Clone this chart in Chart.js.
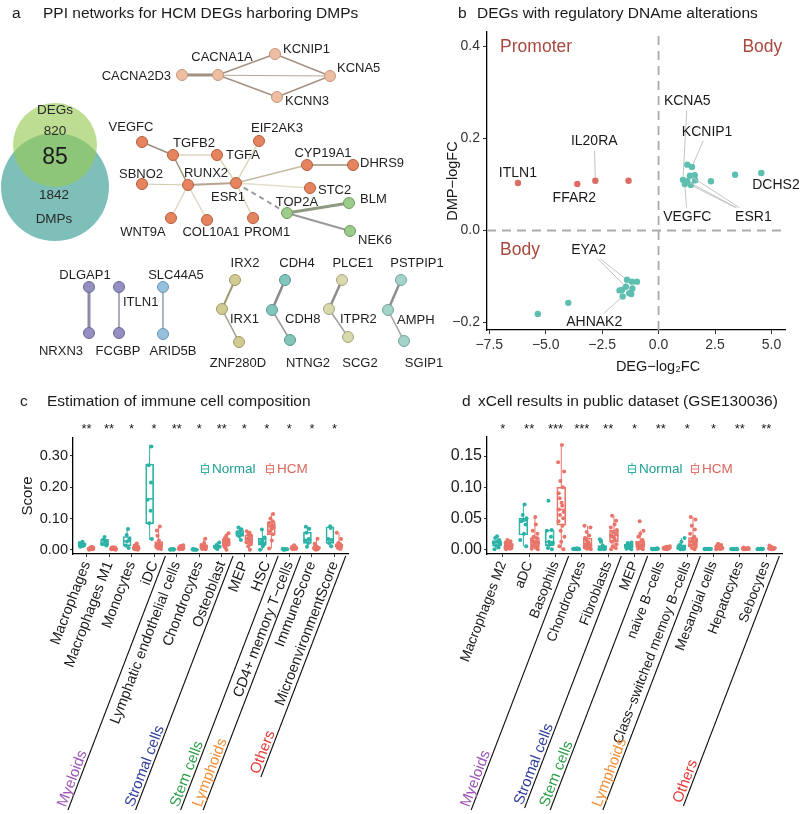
<!DOCTYPE html>
<html>
<head>
<meta charset="utf-8">
<script src="https://cdn.jsdelivr.net/npm/chart.js@4.4.1/dist/chart.umd.min.js"></script>
<style>
body{margin:0;background:#fff}
#wrap{position:relative;width:800px;height:814px;overflow:hidden;background:#fff}
canvas{position:absolute}
</style>
</head>
<body>
<div id="wrap">
<canvas id="ca" width="460" height="380" style="left:0;top:0;width:460px;height:380px"></canvas>
<canvas id="cb" width="400" height="380" style="left:400px;top:0;width:400px;height:380px"></canvas>
<canvas id="cc" width="400" height="434" style="left:0;top:380px;width:400px;height:434px"></canvas>
<canvas id="cd" width="400" height="434" style="left:400px;top:380px;width:400px;height:434px"></canvas>
</div>
<script>
const FONT = '"Liberation Sans", Arial, Helvetica, sans-serif';

// ---- panel a: PPI network + venn ----
const vennNames = ['DEGs', 'DMPs'];
const vennCounts = [820, 1842, 85];
const vennX = [55, 55];
const vennY = [145, 187];
const vennR = [42, 54];

const netNames = ['CACNA2D3','CACNA1A','KCNIP1','KCNA5','KCNN3','VEGFC','TGFB2','TGFA','EIF2AK3','CYP19A1','DHRS9','RUNX2','SBNO2','ESR1','STC2','WNT9A','COL10A1','PROM1','TOP2A','BLM','NEK6','DLGAP1','NRXN3','ITLN1','FCGBP','SLC44A5','ARID5B','IRX2','IRX1','ZNF280D','CDH4','CDH8','NTNG2','PLCE1','ITPR2','SCG2','PSTPIP1','AMPH','SGIP1'];
const netX = [182,218,275,330,277,142,173,217,259,307,353,188,142,236,310,171,207,253,287,349,350,89,89,119,119,163,163,235,222,239,285,272,290,342,329,348,401,388,404];
const netY = [75,75,54,76,97,142,155,155,141,165,165,185,184,183,188,218,220,218,213,203,231,287,333,287,333,287,334,280,309,342,280,310,340,280,309,337,280,310,341];
const netGroup = [0,0,0,0,0,1,1,1,1,1,1,1,1,1,1,1,1,1,2,2,2,3,3,3,3,4,4,5,5,5,6,6,6,7,7,7,8,8,8];
const netEdges = [
  [0,1,'#A39283',3],[0,3,'#B8A89A',1.2],[1,2,'#A39283',1.5],[1,4,'#A39283',1.5],[2,3,'#A39283',1.5],[4,3,'#A39283',1.5],
  [5,6,'#9E8E7E',1.5],[6,7,'#DDD5C4',1.5],[6,11,'#9E9477',1.5],[11,12,'#CFC9A8',1.2],[11,13,'#B9A48F',2],
  [11,15,'#E0D8C5',1.5],[11,16,'#E0D8C5',1.5],[7,13,'#DCD6B8',1.5],[8,13,'#DCD6B8',1.5],[13,9,'#C4BBA0',1.5],
  [9,10,'#B3AD9A',2],[13,14,'#E3DFC8',1.5],[13,17,'#DCD6B8',1.5],
  [13,18,'#9A9A9A',2,1],
  [18,19,'#8C9A80',3],[18,20,'#999999',2],
  [21,22,'#8E8AA6',3],[23,24,'#B0ACBF',2],[25,26,'#A9B9CB',2],[27,28,'#A09A72',2],[28,29,'#9D9A86',1.5],
  [30,31,'#8A8A8A',2.5],[31,32,'#9A9A9A',1.5],[33,34,'#8E8E8E',2.5],[34,35,'#A0A0A0',1.5],[36,37,'#8E8E8E',2.5],[37,38,'#A0A0A0',1.5]
];
// label layout for network nodes
const netLabX = [171,222,283,337,285,131,173,226,277,323,360,206,141,228,318,143,211,267,297,360,358,85,61,123,118,176,173,245,230,238,297,285,308,353,340,360,417,397,424];
const netLabY = [76,57,49,68,101,127,143,155,128,153,163,173,174,197,190,232,232,232,202,199,240,275,351,302,351,275,351,263,319,363,263,319,363,263,319,363,263,320,363];
const netLabAlign = ['right','center','left','left','left','center','left','left','center','center','left','center','center','center','left','center','center','center','center','left','left','center','center','left','center','center','center','center','left','center','center','left','center','center','left','center','center','left','center'];
const groupStyle = [
  ['#EDBFA2','#C9957A'],['#E5845F','#B55E3E'],['#9CCB8A','#6D9A5E'],['#938FC0','#6B6796'],['#95C0DE','#6B94B3'],
  ['#CFCB93','#9D9A66'],['#82C5BA','#5A998E'],['#D9D9AE','#A6A67C'],['#A4D3CA','#72A39A']
];

function tx(ctx, s, x, y, size, color, align, rot, base) {
  ctx.save();
  ctx.font = size + 'px ' + FONT;
  ctx.fillStyle = color || '#1a1a1a';
  ctx.textAlign = align || 'left';
  ctx.textBaseline = base || 'middle';
  if (rot) { ctx.translate(x, y); ctx.rotate(rot); ctx.fillText(s, 0, 0); }
  else ctx.fillText(s, x, y);
  ctx.restore();
}

const netText = {
  id: 'netText',
  afterDatasetsDraw(chart) {
    const {ctx, scales: {x, y}} = chart;
    tx(ctx, 'a', 12, 14, 15.5, '#1a1a1a');
    tx(ctx, 'PPI networks for HCM DEGs harboring DMPs', 43, 14, 15.5, '#1a1a1a');
    netNames.forEach((n, i) => {
      tx(ctx, n, x.getPixelForValue(netLabX[i]), y.getPixelForValue(netLabY[i]), 13, '#1e1e1e', netLabAlign[i]);
    });
    tx(ctx, vennNames[0], 55, 110, 13.5, '#2a2a2a', 'center');
    tx(ctx, String(vennCounts[0]), 55, 131, 13.5, '#2a2a2a', 'center');
    tx(ctx, String(vennCounts[2]), 55, 158, 23, '#1a1a1a', 'center');
    tx(ctx, String(vennCounts[1]), 54, 195, 13.5, '#2a2a2a', 'center');
    tx(ctx, vennNames[1], 54, 219, 13.5, '#2a2a2a', 'center');
  }
};

new Chart(document.getElementById('ca'), {
  type: 'scatter',
  data: {
    datasets: [
      {type: 'bubble', data: [{x: vennX[1], y: vennY[1], r: vennR[1]}], backgroundColor: '#7EC0B9', borderWidth: 0, order: 5},
      {type: 'bubble', data: [{x: vennX[0], y: vennY[0], r: vennR[0]}], backgroundColor: 'rgba(150,202,85,0.64)', borderWidth: 0, order: 4},
      ...netEdges.map(e => ({
        type: 'line',
        data: [{x: netX[e[0]], y: netY[e[0]]}, {x: netX[e[1]], y: netY[e[1]]}],
        borderColor: e[2], borderWidth: e[3], borderDash: e[4] ? [5, 4] : [],
        pointRadius: 0, order: 2
      })),
      ...groupStyle.map((g, gi) => ({
        type: 'scatter',
        data: netNames.map((n, i) => i).filter(i => netGroup[i] === gi).map(i => ({x: netX[i], y: netY[i]})),
        backgroundColor: g[0], borderColor: g[1], borderWidth: 1, pointRadius: 5.5, order: 1
      }))
    ]
  },
  options: {
    responsive: false, animation: false, events: [],
    layout: {padding: 0, autoPadding: false},
    plugins: {legend: {display: false}, tooltip: {enabled: false}},
    scales: {
      x: {type: 'linear', min: 0, max: 460, display: false},
      y: {type: 'linear', min: 0, max: 380, reverse: true, display: false}
    }
  },
  plugins: [netText]
});

// ---- panel b: DEG vs DMP scatter ----
const bXTicks = [-7.5, -5, -2.5, 0, 2.5, 5];
const bYTicks = [-0.2, 0, 0.2, 0.4];
const promoterX = [-6.23, -3.6, -2.8, -1.33];
const promoterY = [0.103, 0.101, 0.108, 0.108];
const bodyX = [1.27,1.48,1.08,1.27,1.39,1.6,1.43,1.16,1.62,2.32,3.39,4.55,-5.35,-4.0,-1.62,-1.45,-1.18,-0.96,-1.4,-1.21,-1.59,-1.73,-1.3,-1.16];
const bodyY = [0.143,0.138,0.110,0.107,0.119,0.120,0.099,0.101,0.109,0.107,0.121,0.125,-0.181,-0.157,-0.129,-0.122,-0.111,-0.111,-0.107,-0.138,-0.143,-0.130,-0.136,-0.126];
const bLabelText = ['ITLN1','IL20RA','FFAR2','KCNA5','KCNIP1','VEGFC','ESR1','DCHS2','EYA2','AHNAK2'];
const bLabelX = [-6.23, -2.85, -3.73, 1.27, 2.15, 1.27, 4.2, 5.2, -3.1, -2.85];
const bLabelY = [0.125, 0.193, 0.071, 0.28, 0.214, 0.03, 0.03, 0.099, -0.042, -0.199];
const bLabelTo = [[], [['p',2]], [], [['b',2]], [['b',1]], [['b',7]], [['b',3],['b',4],['b',6]], [], [['b',18],['b',15]], [['b',20]]];
const NCOL = '#2DB3A6', HCOL = '#E8746A';

const fmtMinus = v => (v < 0 ? '\u2212' : '') + Math.abs(v).toFixed(1);

const bText = {
  id: 'bText',
  afterDatasetsDraw(chart) {
    const {ctx, scales: {x, y}} = chart;
    ctx.save();
    ctx.font = '14px ' + FONT;
    ctx.strokeStyle = '#C4C4C4';
    ctx.lineWidth = 1;
    bLabelText.forEach((t, i) => {
      const cx = x.getPixelForValue(bLabelX[i]), cy = y.getPixelForValue(bLabelY[i]);
      const hw = ctx.measureText(t).width / 2 + 2, hh = 9;
      bLabelTo[i].forEach(([s, k]) => {
        const px = x.getPixelForValue(s === 'p' ? promoterX[k] : bodyX[k]);
        const py = y.getPixelForValue(s === 'p' ? promoterY[k] : bodyY[k]);
        const dx = px - cx, dy = py - cy;
        const t1 = Math.min(dx ? hw / Math.abs(dx) : Infinity, dy ? hh / Math.abs(dy) : Infinity);
        if (t1 >= 1) return;
        const sx = cx + dx * t1, sy = cy + dy * t1;
        const len = Math.hypot(px - sx, py - sy);
        ctx.beginPath();
        ctx.moveTo(sx, sy);
        ctx.lineTo(px - (px - sx) / len * 3, py - (py - sy) / len * 3);
        ctx.stroke();
      });
    });
    ctx.restore();
    bLabelText.forEach((t, i) => {
      tx(ctx, t, x.getPixelForValue(bLabelX[i]), y.getPixelForValue(bLabelY[i]), 14, '#1a1a1a', 'center');
    });
    const qc = '#A8483D';
    tx(ctx, 'Promoter', x.getPixelForValue(-7.02), y.getPixelForValue(0.397), 17.5, qc, 'left');
    tx(ctx, 'Body', x.getPixelForValue(5.48), y.getPixelForValue(0.397), 17.5, qc, 'right');
    tx(ctx, 'Body', x.getPixelForValue(-7.02), y.getPixelForValue(-0.042), 17.5, qc, 'left');
    tx(ctx, 'b', 58, 14, 15.5, '#1a1a1a');
    tx(ctx, 'DEGs with regulatory DNAme alterations', 77, 14, 15.5, '#1a1a1a');
    tx(ctx, 'DMP\u2212logFC', 53, 181, 14.5, '#1a1a1a', 'center', -Math.PI / 2);
    tx(ctx, 'DEG\u2212log\u2082FC', 258, 367, 14.5, '#1a1a1a', 'center');
  }
};

new Chart(document.getElementById('cb'), {
  type: 'scatter',
  data: {
    datasets: [
      {type: 'line', data: [{x: 0, y: -0.216}, {x: 0, y: 0.431}], borderColor: '#ABABAB', borderWidth: 1.8, borderDash: [9, 6], pointRadius: 0, order: 3},
      {type: 'line', data: [{x: -7.6, y: 0}, {x: 5.6, y: 0}], borderColor: '#ABABAB', borderWidth: 1.8, borderDash: [9, 6], pointRadius: 0, order: 3},
      {data: promoterX.map((v, i) => ({x: v, y: promoterY[i]})), backgroundColor: '#DB6D65', borderWidth: 0, pointRadius: 3.2, order: 1},
      {data: bodyX.map((v, i) => ({x: v, y: bodyY[i]})), backgroundColor: '#5EBFB1', borderWidth: 0, pointRadius: 3.2, order: 1}
    ]
  },
  options: {
    responsive: false, animation: false, events: [],
    layout: {padding: {top: 32, right: 15, left: 0, bottom: 0}, autoPadding: false},
    plugins: {legend: {display: false}, tooltip: {enabled: false}},
    scales: {
      x: {
        type: 'linear', min: -7.6, max: 5.6,
        afterBuildTicks: s => { s.ticks = bXTicks.map(v => ({value: v})); },
        afterFit: s => { s.height = 50; s.paddingLeft = 0; s.paddingRight = 0; },
        ticks: {padding: 3, color: '#333', font: {family: FONT, size: 14}, callback: fmtMinus},
        grid: {drawOnChartArea: false, tickLength: 4, color: '#333'},
        border: {color: '#000', width: 1.3}
      },
      y: {
        type: 'linear', min: -0.216, max: 0.431,
        afterBuildTicks: s => { s.ticks = bYTicks.map(v => ({value: v})); },
        afterFit: s => { s.width = 87; s.paddingTop = 0; s.paddingBottom = 0; },
        ticks: {padding: 3, color: '#333', font: {family: FONT, size: 14}, callback: fmtMinus},
        grid: {drawOnChartArea: false, tickLength: 4, color: '#333'},
        border: {color: '#000', width: 1.3}
      }
    }
  },
  plugins: [bText]
});

// ---- panel c: immune cell composition ----
const cCats = ['Macrophages','Macrophages M1','Monocytes','iDC','Lymphatic endothelial cells','Chondrocytes','Osteoblast','MEP','HSC','CD4+ memory T\u2212cells','ImmuneScore','MicroenvironmentScore'];
const cSig = ['**','**','*','*','**','*','**','*','*','*','*','*'];
const cYTicks = [0, 0.1, 0.2, 0.3];
// [lower whisker, q1, median, q3, upper whisker]
const cNormStats = [
  [0.008,0.011,0.017,0.022,0.027],[0.012,0.016,0.022,0.034,0.043],[0.005,0.013,0.028,0.043,0.068],
  [0.032,0.083,0.163,0.274,0.335],[0.0,0.001,0.0015,0.002,0.003],[0.0,0.001,0.001,0.002,0.003],
  [0.003,0.006,0.01,0.016,0.025],[0.032,0.043,0.053,0.062,0.072],[0.0,0.015,0.024,0.037,0.066],
  [0.0,0.001,0.002,0.003,0.004],[0.01,0.021,0.032,0.057,0.075],[0.01,0.021,0.033,0.074,0.077]
];
const cHcmStats = [
  [0.0,0.003,0.004,0.006,0.01],[0.0,0.002,0.004,0.006,0.009],[0.0,0.003,0.005,0.01,0.021],
  [0.002,0.008,0.013,0.027,0.075],[0.001,0.004,0.006,0.009,0.015],[0.001,0.005,0.008,0.014,0.036],
  [0.0,0.014,0.024,0.036,0.053],[0.0,0.022,0.034,0.048,0.06],[0.005,0.048,0.075,0.09,0.117],
  [0.001,0.004,0.006,0.009,0.015],[0.0,0.003,0.006,0.011,0.036],[0.002,0.009,0.012,0.019,0.055]
];
const cNormPts = [
  [0.010,0.013,0.016,0.018,0.022,0.026],[0.014,0.018,0.022,0.027,0.033,0.041],[0.006,0.014,0.027,0.035,0.048,0.067],
  [0.035,0.085,0.125,0.16,0.215,0.27,0.33],[0.0005,0.001,0.0015,0.002,0.002,0.003],[0.0005,0.001,0.001,0.0015,0.002,0.003],
  [0.003,0.006,0.009,0.011,0.016,0.024],[0.032,0.044,0.05,0.054,0.06,0.066,0.072],[0.001,0.012,0.018,0.024,0.03,0.04,0.065],
  [0.0005,0.001,0.002,0.002,0.003,0.004],[0.01,0.022,0.03,0.035,0.055,0.068,0.074],[0.012,0.022,0.032,0.035,0.07,0.076]
];
const cHcmPts = [
  [0.001,0.002,0.003,0.003,0.004,0.004,0.005,0.005,0.006,0.007,0.008,0.010],
  [0.001,0.002,0.002,0.003,0.003,0.004,0.004,0.005,0.006,0.007,0.008,0.009],
  [0.001,0.002,0.003,0.004,0.005,0.005,0.006,0.007,0.009,0.011,0.014,0.021],
  [0.003,0.005,0.007,0.009,0.011,0.012,0.014,0.017,0.021,0.03,0.045,0.062,0.075],
  [0.002,0.003,0.004,0.005,0.005,0.006,0.007,0.008,0.009,0.011,0.013,0.015],
  [0.002,0.003,0.005,0.006,0.007,0.008,0.009,0.011,0.013,0.016,0.022,0.036],
  [0.001,0.008,0.012,0.016,0.02,0.023,0.026,0.03,0.034,0.038,0.045,0.053],
  [0.001,0.012,0.018,0.024,0.028,0.032,0.036,0.04,0.045,0.05,0.055,0.06],
  [0.005,0.03,0.05,0.058,0.066,0.072,0.076,0.08,0.086,0.092,0.1,0.115],
  [0.002,0.003,0.004,0.005,0.006,0.006,0.007,0.008,0.009,0.01,0.012,0.015],
  [0.001,0.002,0.003,0.004,0.005,0.006,0.007,0.009,0.011,0.013,0.02,0.036],
  [0.003,0.006,0.008,0.01,0.011,0.012,0.014,0.016,0.019,0.022,0.035,0.055]
];
const cGroupNames = ['Myeloids','Stromal cells','Stem cells','Lymphoids','Others'];
const cGroupEnds = [3, 6, 8, 9, 11];

// ---- panel d: xCell results ----
const dCats = ['Macrophages M2','aDC','Basophils','Chondrocytes','Fibroblasts','MEP','naive B\u2212cells','Class\u2212switched memoy B\u2212cells','Mesangial cells','Hepatocytes','Sebocytes'];
const dSig = ['*','**','***','***','**','*','**','*','*','**','**'];
const dYTicks = [0, 0.05, 0.1, 0.15];
const dNormStats = [
  [0.0,0.005,0.011,0.014,0.021],[0.005,0.023,0.046,0.05,0.074],[0.0,0.006,0.012,0.031,0.031],
  [0,0,0.0005,0.001,0.0015],[0,0.0005,0.001,0.006,0.016],[0,0.002,0.005,0.008,0.011],
  [0,0,0.0005,0.001,0.0015],[0,0.001,0.002,0.007,0.018],[0,0,0.0005,0.001,0.001],
  [0,0,0.0005,0.0008,0.001],[0,0,0.0005,0.001,0.001]
];
const dHcmStats = [
  [0,0.002,0.005,0.009,0.015],[0,0.003,0.011,0.019,0.052],[0,0.039,0.064,0.1,0.168],
  [0,0.003,0.008,0.018,0.038],[0,0.012,0.022,0.031,0.054],[0,0.003,0.007,0.013,0.03],
  [0,0.001,0.002,0.003,0.005],[0,0.006,0.012,0.019,0.052],[0,0.001,0.002,0.004,0.009],
  [0,0.0005,0.001,0.002,0.003],[0,0.001,0.002,0.0025,0.006]
];
const dNormPts = [
  [0.0,0.003,0.006,0.009,0.011,0.012,0.015,0.018,0.021],
  [0.005,0.015,0.025,0.04,0.045,0.047,0.05,0.055,0.072],
  [0.0,0.002,0.008,0.01,0.012,0.02,0.03,0.031,0.078],
  [0,0,0,0.0005,0.0005,0.001,0.001,0.001,0.0015],
  [0,0,0.0005,0.001,0.001,0.002,0.006,0.012,0.016],
  [0,0.001,0.002,0.004,0.005,0.006,0.008,0.01,0.011],
  [0,0,0,0.0005,0.0005,0.001,0.001,0.001,0.0015],
  [0,0,0.001,0.002,0.002,0.004,0.007,0.012,0.018],
  [0,0,0,0,0.0005,0.0005,0.001,0.001,0.001],
  [0,0,0,0,0.0005,0.0005,0.0005,0.001,0.001],
  [0,0,0,0.0005,0.0005,0.001,0.001,0.001,0.001]
];
const dHcmPts = [
  [0,0.001,0.002,0.002,0.003,0.004,0.004,0.005,0.006,0.007,0.008,0.009,0.011,0.013,0.015],
  [0.0,0.001,0.003,0.005,0.007,0.009,0.01,0.012,0.013,0.015,0.018,0.02,0.025,0.03,0.04,0.052],
  [0.0,0.005,0.012,0.02,0.03,0.038,0.045,0.05,0.055,0.06,0.064,0.07,0.075,0.082,0.09,0.1,0.11,0.125,0.14,0.168],
  [0,0.001,0.002,0.003,0.004,0.005,0.006,0.008,0.01,0.012,0.015,0.018,0.022,0.028,0.035,0.038],
  [0,0.002,0.005,0.008,0.012,0.015,0.018,0.02,0.022,0.025,0.028,0.031,0.035,0.04,0.046,0.054],
  [0,0.001,0.002,0.003,0.004,0.005,0.006,0.007,0.008,0.01,0.012,0.015,0.02,0.025,0.03,0.045],
  [0,0.0005,0.001,0.001,0.0015,0.002,0.002,0.0025,0.003,0.003,0.004,0.005],
  [0,0.002,0.004,0.006,0.008,0.01,0.012,0.013,0.015,0.017,0.02,0.025,0.032,0.038,0.048,0.052],
  [0,0.0005,0.001,0.0015,0.002,0.002,0.003,0.004,0.005,0.007,0.009],
  [0,0,0.0005,0.0005,0.001,0.001,0.0015,0.002,0.002,0.003],
  [0,0.0005,0.001,0.001,0.0015,0.002,0.002,0.0025,0.003,0.004,0.006]
];
const dGroupNames = ['Myeloids','Stromal cells','Stem cells','Lymphoids','Others'];
const dGroupEnds = [2, 4, 5, 7, 10];

const groupColors = ['#9E57B8','#33409A','#2E9E4A','#F0913A','#E53935'];
// fixed horizontal spread of points inside a box (x offsets only)
const jit = [-0.08,0.05,-0.03,0.09,-0.1,0.02,0.07,-0.06,0.0,0.1,-0.02,0.04,-0.09,0.06,-0.04,0.08,-0.07,0.03,0.01,-0.05];

function boxChart(id, o) {
  const n = o.cats.length;
  const ANG = 69 * Math.PI / 180;
  const plug = {
    id: 'box_' + id,
    beforeDatasetsDraw(chart) {
      const {ctx, scales: {x, y}} = chart;
      [[o.nStats, -o.off, NCOL], [o.hStats, o.off, HCOL]].forEach(([st, off, col]) => {
        ctx.save();
        ctx.strokeStyle = col;
        st.forEach((s, i) => {
          const px = x.getPixelForValue(i + off);
          ctx.lineWidth = 1;
          ctx.beginPath();
          ctx.moveTo(px, y.getPixelForValue(s[0])); ctx.lineTo(px, y.getPixelForValue(s[1]));
          ctx.moveTo(px, y.getPixelForValue(s[3])); ctx.lineTo(px, y.getPixelForValue(s[4]));
          ctx.stroke();
          ctx.lineWidth = 1.5;
          const my = y.getPixelForValue(s[2]);
          ctx.beginPath(); ctx.moveTo(px - o.bw / 2, my); ctx.lineTo(px + o.bw / 2, my); ctx.stroke();
        });
        ctx.restore();
      });
    },
    afterDraw(chart) {
      const {ctx, scales: {x}, chartArea} = chart;
      tx(ctx, o.letter, o.letterX, 22, 15.5, '#1a1a1a');
      tx(ctx, o.title, o.titleX, 22, 15.5, '#1a1a1a');
      o.sig.forEach((s, i) => tx(ctx, s, x.getPixelForValue(i), 49, 13, '#1a1a1a', 'center'));
      // legend
      [[o.legX[0], NCOL, 'Normal'], [o.legX[1], HCOL, 'HCM']].forEach(([lx, col, name]) => {
        ctx.save();
        ctx.strokeStyle = col; ctx.lineWidth = 1;
        ctx.beginPath(); ctx.moveTo(lx, 83); ctx.lineTo(lx, 95); ctx.stroke();
        ctx.fillStyle = '#fff';
        ctx.fillRect(lx - 3.5, 85.5, 7, 7); ctx.strokeRect(lx - 3.5, 85.5, 7, 7);
        ctx.beginPath(); ctx.moveTo(lx - 3.5, 89); ctx.lineTo(lx + 3.5, 89); ctx.stroke();
        ctx.restore();
        tx(ctx, name, lx + 7, 89, 13.5, col === NCOL ? '#1f9d92' : '#d9665c');
      });
      if (o.yTitle) tx(ctx, o.yTitle, 28, 116, 15, '#1a1a1a', 'center', -Math.PI / 2);
      // group brackets
      o.groupEnds.forEach((e, g) => {
        const bx = x.getPixelForValue(e + 0.5);
        const yt = chartArea.bottom + 2, yb = o.groupBottom[g];
        const ex = bx - (yb - yt) / Math.tan(ANG);
        ctx.save();
        ctx.strokeStyle = '#111'; ctx.lineWidth = 1.1;
        ctx.beginPath(); ctx.moveTo(bx, yt); ctx.lineTo(ex, yb); ctx.stroke();
        ctx.restore();
        tx(ctx, o.groupNames[g], ex + 1, yb - 1, 15, groupColors[g], 'left', -ANG, 'bottom');
      });
    }
  };
  const boxSet = (st, off, col) => ({
    type: 'bar', data: st.map((s, i) => ({x: i + off, y: [s[1], s[3]]})),
    backgroundColor: 'rgba(255,255,255,0)', borderColor: col, borderWidth: 1, borderSkipped: false,
    barThickness: o.bw, grouped: false, order: 2
  });
  const ptSet = (pts, off, col) => ({
    type: 'scatter',
    data: pts.flatMap((arr, i) => arr.map((v, k) => ({x: i + off + jit[(k + i * 3) % jit.length] * o.js, y: v}))),
    backgroundColor: col, borderWidth: 0, pointRadius: 2, order: 1
  });
  new Chart(document.getElementById(id), {
    type: 'bar',
    data: {datasets: [
      boxSet(o.nStats, -o.off, NCOL), boxSet(o.hStats, o.off, HCOL),
      ptSet(o.nPts, -o.off, NCOL), ptSet(o.hPts, o.off, HCOL)
    ]},
    options: {
      responsive: false, animation: false, events: [],
      layout: {padding: o.pad, autoPadding: false},
      plugins: {legend: {display: false}, tooltip: {enabled: false}},
      scales: {
        x: {
          type: 'linear', min: -0.6, max: n - 0.4, offset: false,
          afterBuildTicks: s => { s.ticks = o.cats.map((c, i) => ({value: i})); },
          afterFit: s => { s.height = 260; s.paddingLeft = 0; s.paddingRight = 0; },
          ticks: {autoSkip: false, minRotation: 69, maxRotation: 69, padding: 2, color: '#1a1a1a',
                  font: {family: FONT, size: o.xFont}, callback: v => o.cats[v]},
          grid: {drawOnChartArea: false, offset: false, tickLength: 3, color: '#333'},
          border: {color: '#000', width: 1.3}
        },
        y: {
          type: 'linear', min: o.yMin, max: o.yMax,
          afterBuildTicks: s => { s.ticks = o.yTicks.map(v => ({value: v})); },
          afterFit: s => { s.width = o.yw; s.paddingTop = 0; s.paddingBottom = 0; },
          ticks: {padding: 2, color: '#1a1a1a', font: {family: FONT, size: o.yFont}, callback: v => v.toFixed(2)},
          grid: {drawOnChartArea: false, tickLength: 3, color: '#333'},
          border: {color: '#000', width: 1.3}
        }
      }
    },
    plugins: [plug]
  });
}

boxChart('cc', {
  cats: cCats, sig: cSig, nStats: cNormStats, hStats: cHcmStats, nPts: cNormPts, hPts: cHcmPts,
  yTicks: cYTicks, yMin: -0.0128, yMax: 0.357, yw: 73, yFont: 14.5, xFont: 14.5, pad: {top: 58, right: 52, left: 0, bottom: 0},
  off: 0.2, bw: 8, js: 1, letter: 'c', letterX: 20, title: 'Estimation of immune cell composition', titleX: 47,
  legX: [205, 270], yTitle: 'Score', groupNames: cGroupNames, groupEnds: cGroupEnds, groupBottom: [430, 430, 430, 430, 397]
});
boxChart('cd', {
  cats: dCats, sig: dSig, nStats: dNormStats, hStats: dHcmStats, nPts: dNormPts, hPts: dHcmPts,
  yTicks: dYTicks, yMin: -0.0076, yMax: 0.1807, yw: 87, yFont: 16, xFont: 13.8, pad: {top: 57, right: 18, left: 0, bottom: 0},
  off: 0.22, bw: 9, js: 1.2, letter: 'd', letterX: 62, title: 'xCell results in public dataset (GSE130036)', titleX: 78,
  legX: [232, 295], yTitle: null, groupNames: dGroupNames, groupEnds: dGroupEnds, groupBottom: [430, 428, 430, 430, 426]
});
</script>
</body>
</html>
